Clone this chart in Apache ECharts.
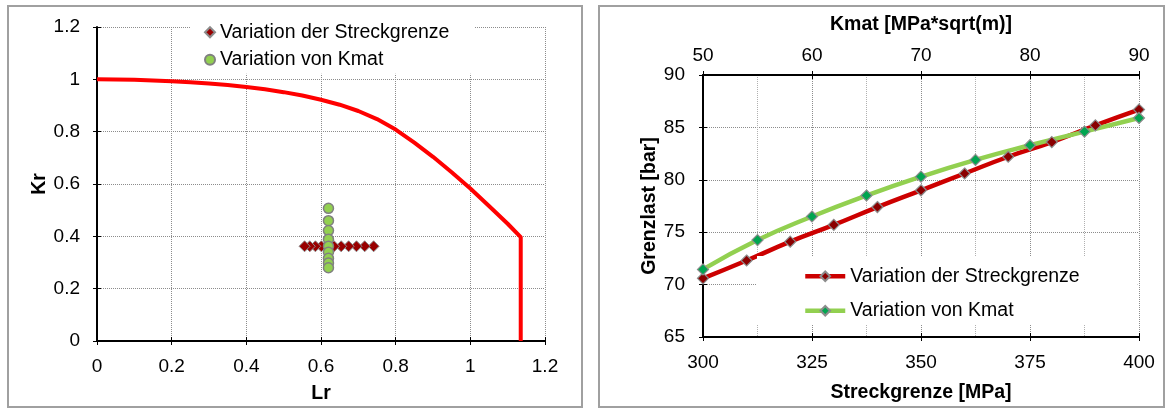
<!DOCTYPE html>
<html>
<head>
<meta charset="utf-8">
<script src="https://cdn.jsdelivr.net/npm/echarts@6/dist/echarts.min.js"></script>
<style>
  html, body { margin: 0; padding: 0; background: #fff; }
  #wrap { position: relative; width: 1167px; height: 409px; }
  #left { position: absolute; left: 0; top: 0; width: 590px; height: 409px; }
  #right { position: absolute; left: 590px; top: 0; width: 577px; height: 409px; }
</style>
</head>
<body>
<div id="wrap">
  <div id="left"></div>
  <div id="right"></div>
</div>
<script>
// left chart: FAD curve and assessment points
const fadLr = [0, 0.05, 0.1, 0.15, 0.2, 0.25, 0.3, 0.35, 0.4, 0.45, 0.5, 0.55, 0.6, 0.65, 0.7, 0.75, 0.8, 0.85, 0.9, 0.95, 1.0, 1.05, 1.1, 1.135, 1.135]
const fadKr = [1.0, 0.999, 0.998, 0.996, 0.993, 0.989, 0.984, 0.978, 0.971, 0.962, 0.951, 0.938, 0.922, 0.903, 0.879, 0.848, 0.808, 0.758, 0.704, 0.645, 0.583, 0.516, 0.448, 0.397, 0]
const yieldLr = [0.741, 0.717, 0.695, 0.674, 0.654, 0.635, 0.618, 0.601, 0.585, 0.570, 0.556]
const yieldKr = [0.362, 0.362, 0.362, 0.362, 0.362, 0.362, 0.362, 0.362, 0.362, 0.362, 0.362]
const kmatLr = [0.62, 0.62, 0.62, 0.62, 0.62, 0.62, 0.62, 0.62, 0.62]
const kmatKr = [0.507, 0.46, 0.422, 0.389, 0.362, 0.339, 0.316, 0.298, 0.28]

// right chart: limit load
const streckX = [300, 310, 320, 330, 340, 350, 360, 370, 380, 390, 400]
const streckY = [70.6, 72.3, 74.1, 75.7, 77.4, 79.0, 80.6, 82.2, 83.6, 85.2, 86.7]
const kmatX = [50, 55, 60, 65, 70, 75, 80, 85, 90]
const kmatY = [71.45, 74.25, 76.5, 78.5, 80.3, 81.9, 83.3, 84.6, 85.9]

const seriesNames = ['Variation der Streckgrenze', 'Variation von Kmat']

const zip = (xs, ys) => xs.map((x, i) => [x, ys[i]])

const tickFont = { fontFamily: 'Liberation Sans', fontSize: 19, color: '#000' }
const legendFont = { fontFamily: 'Liberation Sans', fontSize: 19.5, color: '#000' }
const titleFont = { fontFamily: 'Liberation Sans', fontSize: 19.5, fontWeight: 'bold', color: '#000' }
const gridLine = { show: true, lineStyle: { color: '#8c8c8c', type: 'dotted', width: 1 } }
const blackLine = { show: true, onZero: false, lineStyle: { color: '#000', width: 2 } }
const tick = { show: true, length: 4, lineStyle: { color: '#000', width: 1 } }

// second copy of an axis that only draws the inner half of the cross ticks
function innerTicks (base) {
  return {
    ...base,
    name: '',
    axisLine: { show: false, onZero: false },
    axisTick: { ...tick, inside: true },
    axisLabel: { show: false },
    splitLine: { show: false },
    minorSplitLine: { show: false }
  }
}

function frame (x, y, w, h) {
  return [{
    type: 'rect',
    z: -10,
    shape: { x: x, y: y, width: w, height: h },
    style: { fill: 'none', stroke: '#a0a0a0', lineWidth: 2 }
  }]
}

// ---------- left ----------
const lx = { type: 'value', position: 'bottom', min: 0, max: 1.2, interval: 0.2 }
const ly = { type: 'value', position: 'left', min: 0, max: 1.2, interval: 0.2 }

const leftChart = echarts.init(document.getElementById('left'))
leftChart.setOption({
  animation: false,
  graphic: frame(8, 6, 574, 401),
  grid: { left: 97, top: 27, width: 448, height: 316 },
  legend: {
    data: seriesNames,
    orient: 'vertical',
    left: 190,
    top: 18,
    padding: [4.25, 25, 4, 14],
    itemWidth: 10,
    itemHeight: 10,
    itemGap: 7.5,
    backgroundColor: '#fff',
    textStyle: legendFont
  },
  xAxis: [
    {
      ...lx,
      name: 'Lr',
      nameLocation: 'middle',
      nameGap: 43,
      nameMoveOverlap: false,
      nameTextStyle: titleFont,
      axisLine: blackLine,
      axisTick: tick,
      axisLabel: { ...tickFont, margin: 16.5 },
      splitLine: gridLine
    },
    innerTicks(lx)
  ],
  yAxis: [
    {
      ...ly,
      name: 'Kr',
      nameLocation: 'middle',
      nameGap: 47,
      nameMoveOverlap: false,
      nameTextStyle: titleFont,
      axisLine: blackLine,
      axisTick: tick,
      axisLabel: { ...tickFont, margin: 17 },
      splitLine: gridLine
    },
    innerTicks(ly)
  ],
  series: [
    {
      type: 'line',
      data: zip(fadLr, fadKr),
      showSymbol: false,
      smooth: false,
      lineStyle: { color: '#ff0000', width: 4, join: 'round' },
      itemStyle: { color: '#ff0000' },
      z: 3
    },
    {
      type: 'scatter',
      name: seriesNames[0],
      data: zip(yieldLr, yieldKr),
      symbol: 'diamond',
      symbolSize: 11,
      itemStyle: { color: '#990000', borderColor: '#8c8c8c', borderWidth: 1, opacity: 1 },
      z: 4
    },
    {
      type: 'scatter',
      name: seriesNames[1],
      data: zip(kmatLr, kmatKr),
      symbol: 'circle',
      symbolSize: 10,
      itemStyle: { color: '#92d050', borderColor: '#808080', borderWidth: 1.5, opacity: 1 },
      z: 5
    }
  ]
})

// ---------- right ----------
const rx = { type: 'value', position: 'bottom', min: 300, max: 400, interval: 25 }
const rxTop = { type: 'value', position: 'top', min: 50, max: 90, interval: 10 }
const ry = { type: 'value', position: 'left', min: 65, max: 90, interval: 5 }

const rightChart = echarts.init(document.getElementById('right'))
rightChart.setOption({
  animation: false,
  graphic: frame(9, 6, 565, 401),
  grid: { left: 113, top: 75, width: 436, height: 262 },
  legend: {
    data: seriesNames,
    orient: 'vertical',
    left: 167,
    top: 256,
    padding: [10.25, 58, 4, 46],
    itemWidth: 40,
    itemHeight: 12,
    itemGap: 14.5,
    backgroundColor: '#fff',
    lineStyle: { width: 4.5 },
    textStyle: legendFont
  },
  xAxis: [
    {
      ...rx,
      name: 'Streckgrenze [MPa]',
      nameLocation: 'middle',
      nameGap: 46,
      nameMoveOverlap: false,
      nameTextStyle: titleFont,
      axisLine: blackLine,
      axisTick: tick,
      axisLabel: { ...tickFont, margin: 16.5 },
      splitLine: { show: false }
    },
    innerTicks(rx),
    {
      ...rxTop,
      name: 'Kmat [MPa*sqrt(m)]',
      nameLocation: 'middle',
      nameGap: 40,
      nameMoveOverlap: false,
      nameTextStyle: titleFont,
      axisLine: blackLine,
      axisTick: tick,
      axisLabel: { ...tickFont, margin: 10 },
      splitLine: gridLine,
      minorTick: { show: false, splitNumber: 2 },
      minorSplitLine: { show: true, lineStyle: { color: '#b0b0b0', type: 'dotted', width: 1 } }
    },
    innerTicks(rxTop)
  ],
  yAxis: [
    {
      ...ry,
      name: 'Grenzlast [bar]',
      nameLocation: 'middle',
      nameGap: 43,
      nameMoveOverlap: false,
      nameTextStyle: titleFont,
      axisLine: blackLine,
      axisTick: tick,
      axisLabel: { ...tickFont, margin: 18 },
      splitLine: gridLine
    },
    innerTicks(ry)
  ],
  series: [
    {
      type: 'line',
      name: seriesNames[0],
      xAxisIndex: 0,
      yAxisIndex: 0,
      data: zip(streckX, streckY),
      smooth: true,
      symbol: 'diamond',
      symbolSize: 11,
      lineStyle: { color: '#cc0000', width: 4.5 },
      itemStyle: { color: '#8b0000', borderColor: '#8c8c8c', borderWidth: 1.2 },
      z: 3
    },
    {
      type: 'line',
      name: seriesNames[1],
      xAxisIndex: 2,
      yAxisIndex: 0,
      data: zip(kmatX, kmatY),
      smooth: true,
      symbol: 'diamond',
      symbolSize: 11,
      lineStyle: { color: '#92d050', width: 4.5 },
      itemStyle: { color: '#00a550', borderColor: '#8c8c8c', borderWidth: 1.2 },
      z: 3
    }
  ]
})
</script>
</body>
</html>
